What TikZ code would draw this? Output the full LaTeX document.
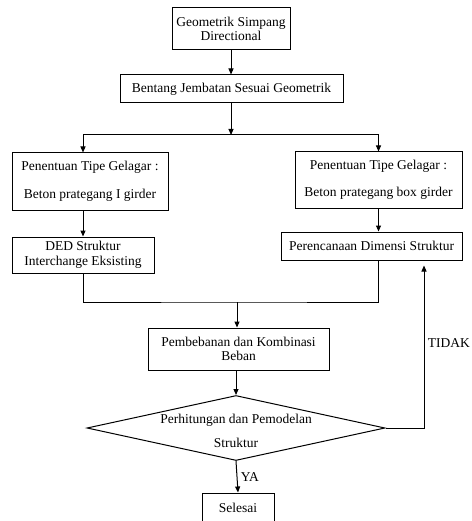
\documentclass[tikz,border=0pt]{standalone}
\usepackage{fontspec}
\setmainfont{Liberation Serif}
\usepackage{tikz}
\usetikzlibrary{arrows.meta,positioning,calc,shapes.geometric}

\begin{document}
\begin{tikzpicture}[
    x=1pt, y=-1pt,
    every node/.style={font=\fontsize{13.5}{14.5}\selectfont},
    box/.style={draw, line width=1pt, inner sep=2pt, align=center},
    decision/.style={draw, diamond, line width=1pt, inner sep=0pt, minimum width=298pt, minimum height=65pt},
    arrow/.style={-{Triangle[length=6pt,width=5pt]}, line width=1pt},
    link/.style={line width=1pt}
]
\useasboundingbox (0,0) rectangle (471,521);

% Geometrik
\node[box, minimum width=118pt, minimum height=42pt] (geo) at (231,29) {Geometrik Simpang\\Directional};

% Bentang
\node[box, minimum width=223pt, minimum height=28pt] (bentang) at (231.5,89) {Bentang Jembatan Sesuai Geometrik};

% Tipe gelagar
\node[box, minimum width=156pt, minimum height=57pt] (tipeI) at (90,181.5) {Penentuan Tipe Gelagar :\\[13pt]Beton prategang I girder};
\node[box, minimum width=167pt, minimum height=56pt] (tipeBox) at (378.5,180) {Penentuan Tipe Gelagar :\\[13pt]Beton prategang box girder};

% DED and Perencanaan
\node[box, minimum width=142pt, minimum height=36pt] (ded) at (83,255) {DED Struktur\\Interchange Eksisting};
\node[box, minimum width=181pt, minimum height=28pt] (rencana) at (371.5,246) {Perencanaan Dimensi Struktur};

% Pembebanan
\node[box, minimum width=181pt, minimum height=42pt] (beban) at (238.5,349) {Pembebanan dan Kombinasi\\Beban};

% Perhitungan
\node[decision] (calc) at (236,428) {};
\node[align=center, inner sep=0pt] (calctext) at (236,431) {Perhitungan dan Pemodelan\\[9pt]Struktur};

% Selesai
\node[box, minimum width=72pt, minimum height=30pt] (selesai) at (238,508) {Selesai};

% Coordinates
\coordinate (split) at (231,135);
\coordinate (merge) at (237,302);

% Arrows
\draw[arrow] (geo.south) -- (geo.south |- bentang.north);
\draw[arrow] (bentang.south -| split) -- (split);
\draw[arrow] (split) -| (tipeI.north -| ded);
\draw[arrow] (split) -| (tipeBox.north);
\draw[arrow] (tipeI.south -| ded) -- (ded.north);
\draw[arrow] (tipeBox.south) -- (tipeBox.south |- rencana.north);
\draw[link] (ded.south) |- (merge) -| (tipeBox.south |- rencana.south);
\draw[arrow] (merge) -- (merge |- beban.north);
\draw[arrow] (beban.south -| calc) -- (calc.north);
\draw[arrow] (calc.south) -- (selesai.north) node[midway, right] {YA};
\draw[arrow] (calc.east) -| ([xshift=52.5pt,yshift=-5pt]rencana.south) node[pos=0.76, right] {TIDAK};

\end{tikzpicture}
\end{document}
